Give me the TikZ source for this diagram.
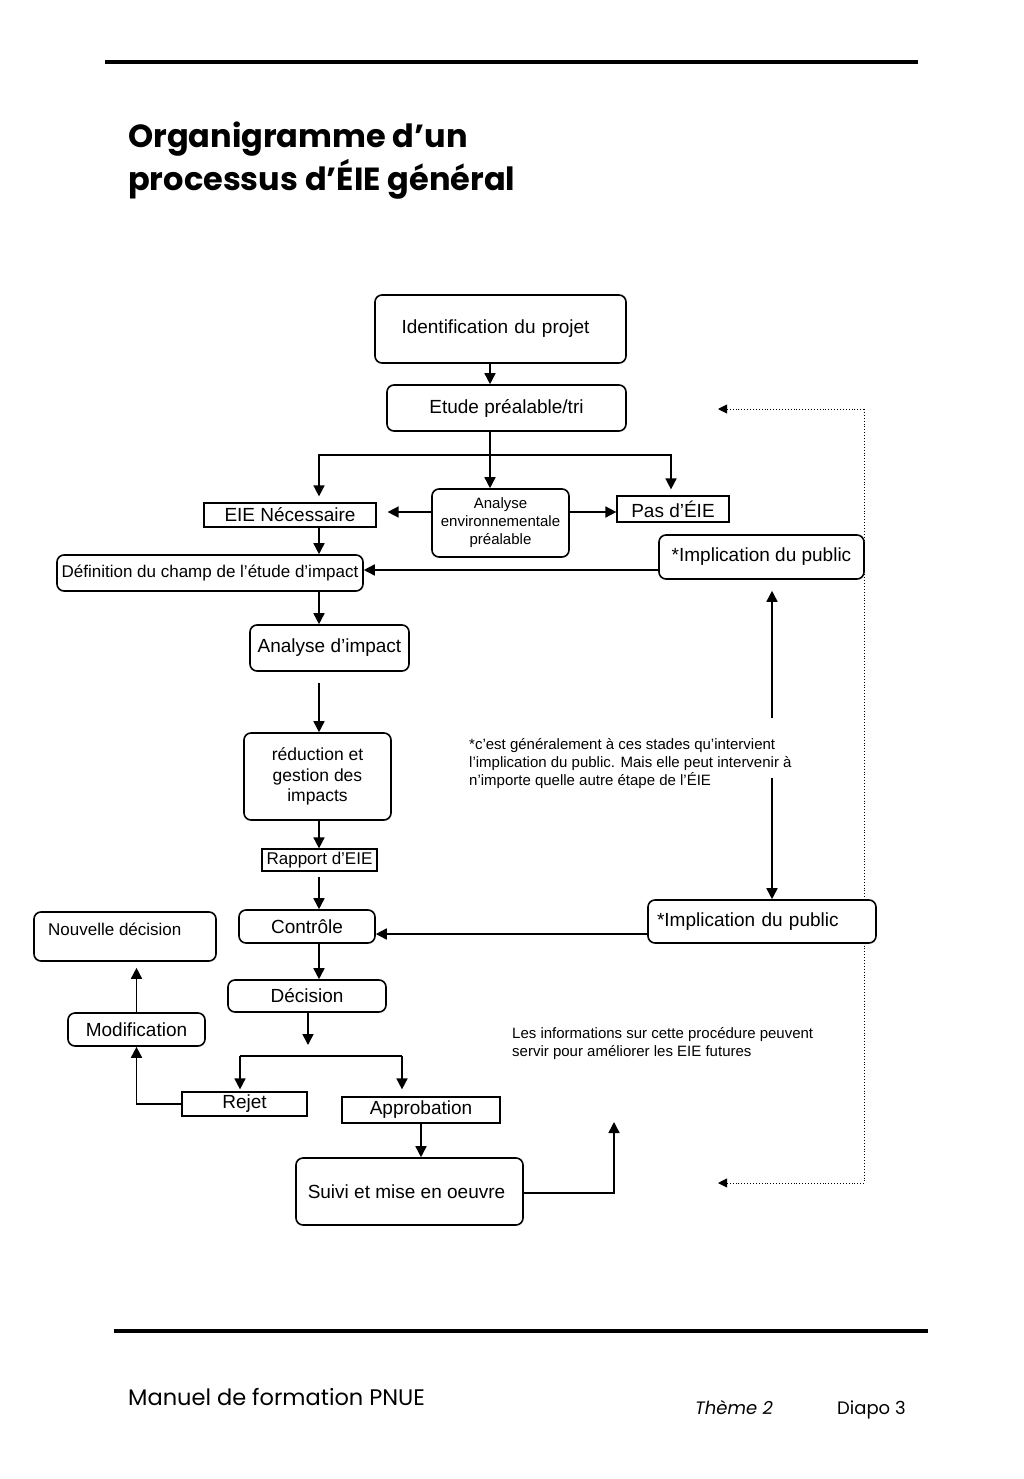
\documentclass[tikz,border=0pt]{standalone}
\usepackage{fontspec}
\setmainfont{Liberation Sans}
\newfontfamily\gothic{Poppins}
\usetikzlibrary{arrows.meta}
\tikzset{
  rbox/.style={draw, line width=1.6pt, rounded corners=7pt, fill=white, inner sep=0pt, align=center},
  sbox/.style={draw, line width=1.2pt, fill=white, inner sep=0pt, align=center},
  arr/.style={line width=1.6pt, -{Triangle[length=11pt,width=11pt]}},
  link/.style={line width=1.6pt},
  dotline/.style={line width=0.9pt, dotted},
  dotarr/.style={line width=0.9pt, dotted, -{Triangle[length=9pt,width=9pt]}},
  ft/.style={font=\fontsize{19}{22}\selectfont},
  fs/.style={font=\fontsize{15}{18}\selectfont},
}
\begin{document}
\begin{tikzpicture}[x=1pt,y=-1pt]
\useasboundingbox (0,0) rectangle (1024,1479);
\fill[white] (0,0) rectangle (1024,1479);
% page rules
\draw[line width=4pt] (105,62) -- (918,62);
\draw[line width=4pt] (114,1331) -- (928,1331);
% title
\node[anchor=north west, inner sep=0pt, align=left, font=\gothic\bfseries\fontsize{32}{43}\selectfont] (title) at (128,122) {Organigramme d’un\\processus d’ÉIE général};
% footer
\node[anchor=base west, inner sep=0pt, font=\gothic\fontsize{22.5}{26}\selectfont] (foot1) at (128,1405) {Manuel de formation PNUE};
\node[anchor=base west, inner sep=0pt, font=\gothic\itshape\fontsize{18}{22}\selectfont] (foot2) at (695,1414) {Thème 2};
\node[anchor=base west, inner sep=0pt, font=\gothic\fontsize{18}{22}\selectfont] (foot3) at (837,1414) {Diapo 3};

% coordinates for connector lines
\coordinate (c1) at (490,0);
\coordinate (colA) at (319,0);
\coordinate (colP) at (671,0);
\coordinate (b) at (490,455);
\coordinate (rowE) at (0,512);
\coordinate (row570) at (0,570);
\coordinate (row934) at (0,934);
\coordinate (v1) at (772,718);
\coordinate (v2) at (772,778);
\coordinate (d1) at (308,1045);
\coordinate (bl) at (240,1056);
\coordinate (br) at (402,1056);
\coordinate (up) at (614,1122);
\coordinate (row1193) at (0,1193);
\coordinate (dt) at (718,409);
\coordinate (db) at (718,1183);
\coordinate (dr1) at (864,409);
\coordinate (dr2) at (864,1183);

% dotted feedback line (behind boxes)
\draw[dotline] (dr1) -- (dr2);
\draw[dotarr] (dr1) -- (dt);
\draw[dotarr] (dr2) -- (db);

% nodes
\node[rbox, ft, minimum width=251pt, minimum height=68pt, text width=235pt] (ident) at (500.5,329) {\hspace*{-10pt}Identification du projet};
\node[rbox, ft, minimum width=239pt, minimum height=46pt] (etude) at (506.5,408) {Etude préalable/tri};
\node[sbox, ft, minimum width=172pt, minimum height=24pt] (eie) at (290,515) {EIE Nécessaire};
\node[rbox, fs, minimum width=137pt, minimum height=68pt] (aep) at (500.5,523) {Analyse\\environnementale\\préalable};
\node[sbox, ft, minimum width=112pt, minimum height=26pt] (pas) at (673,509) {Pas d’ÉIE};
\node[rbox, font=\fontsize{17}{20}\selectfont, minimum width=306pt, minimum height=36pt] (def) at (210,573) {Définition du champ de l’étude d’impact};
\node[rbox, ft, minimum width=205pt, minimum height=44pt] (imp1) at (761.5,557) {*Implication du public};
\node[rbox, ft, minimum width=159pt, minimum height=46pt] (ana) at (329.5,648) {Analyse d’impact};
\node[rbox, font=\fontsize{17.5}{20.5}\selectfont, minimum width=147pt, minimum height=87pt] (red) at (317.5,776.5) {réduction et\\gestion des\\impacts};
\node[sbox, font=\fontsize{17}{18}\selectfont, minimum width=115pt, minimum height=22pt] (rap) at (319.5,860) {Rapport d’EIE};
\node[rbox, ft, minimum width=136pt, minimum height=33pt] (ctrl) at (307,926.5) {Contrôle};
\node[rbox, ft, minimum width=228pt, minimum height=43pt, text width=210pt, align=left] (imp2) at (762,921.5) {*Implication du public};
\node[rbox, minimum width=182pt, minimum height=49pt] (nouv) at (125,936.5) {};
\node[anchor=west, inner sep=0pt, font=\fontsize{17}{20}\selectfont] (nouvt) at (48,929) {Nouvelle décision};
\node[rbox, ft, minimum width=158pt, minimum height=32pt] (dec) at (307,996) {Décision};
\node[rbox, ft, minimum width=137pt, minimum height=33pt] (mod) at (136.5,1029.5) {Modification};
\node[sbox, ft, minimum width=125pt, minimum height=24pt] (rej) at (244.5,1104) {Rejet};
\node[sbox, ft, minimum width=158pt, minimum height=26pt] (app) at (421,1110) {Approbation};
\node[rbox, ft, minimum width=227pt, minimum height=67pt] (suivi) at (409.5,1191.5) {Suivi et mise en oeuvre\hspace*{6pt}};

% notes
\node[anchor=north west, inner sep=0pt, align=left, fs] (note1) at (469,738) {*c’est généralement à ces stades qu’intervient\\l’implication du public. Mais elle peut intervenir à\\n’importe quelle autre étape de l’ÉIE};
\node[anchor=north west, inner sep=0pt, align=left, fs] (note2) at (512,1027) {Les informations sur cette procédure peuvent\\servir pour améliorer les EIE futures};

% connectors
\draw[arr] (ident.south -| c1) -- (etude.north -| c1);
\draw[link] (etude.south -| c1) -- (b);
\draw[arr] (b) -- (aep.north -| b);
\draw[arr, shorten >=6pt] (b) -| (eie.north -| colA);
\draw[arr, shorten >=6pt] (b) -| (pas.north -| colP);
\draw[arr, shorten >=11pt] (aep.west |- rowE) -- (eie.east |- rowE);
\draw[arr] (aep.east |- rowE) -- (pas.west |- rowE);
\draw[arr] (eie.south -| colA) -- (def.north -| colA);
\draw[arr] (imp1.west |- row570) -- (def.east |- row570);
\draw[arr] (def.south -| colA) -- (ana.north -| colA);
\draw[arr, shorten <=11pt] (ana.south -| colA) -- (red.north -| colA);
\draw[arr] (red.south -| colA) -- (rap.north -| colA);
\draw[arr, shorten <=5pt] (rap.south -| colA) -- (ctrl.north -| colA);
\draw[arr] (imp2.west |- row934) -- (ctrl.east |- row934);
\draw[arr, shorten >=11pt] (v1) -- (imp1.south -| v1);
\draw[arr] (v2) -- (imp2.north -| v2);
\draw[arr] (ctrl.south -| colA) -- (dec.north -| colA);
\draw[arr] (dec.south -| d1) -- (d1);
\draw[link] (bl) -- (br);
\draw[arr, shorten >=2pt] (bl) -- (rej.north -| bl);
\draw[arr, shorten >=7pt] (br) -- (app.north -| br);
\draw[arr] (rej.west) -| (mod.south);
\draw[arr, shorten >=6pt] (mod.north) -- (nouv.south -| mod.north);
\draw[arr] (app.south) -- (suivi.north -| app.south);
\draw[arr] (suivi.east |- row1193) -| (up);
\end{tikzpicture}
\end{document}
